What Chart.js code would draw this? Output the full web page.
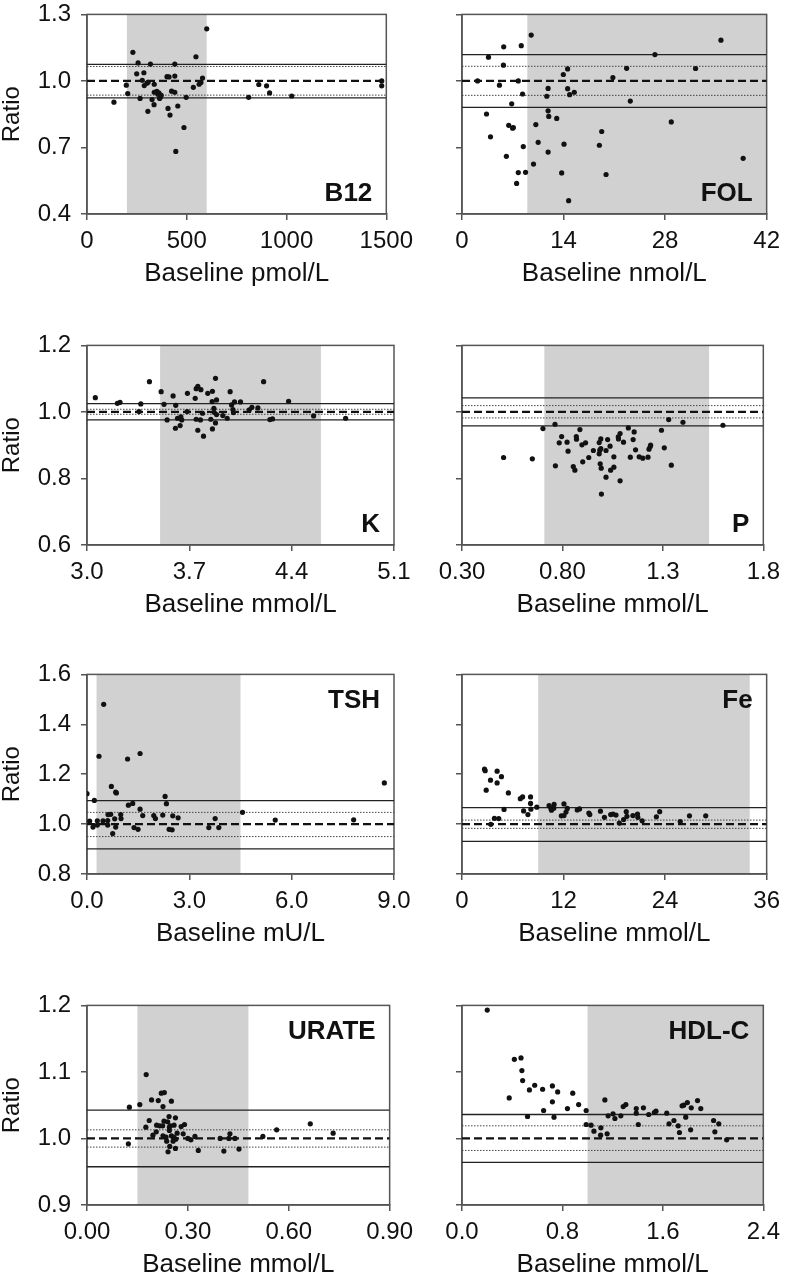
<!DOCTYPE html>
<html>
<head>
<meta charset="utf-8">
<script src="https://cdn.jsdelivr.net/npm/chart.js@4.4.0/dist/chart.umd.min.js"></script>
<style>
  body { margin: 0; background: #fff; width: 787px; height: 1275px; position: relative; overflow: hidden; }
  canvas.panel { position: absolute; }
</style>
</head>
<body>
<script>
// ---- data ----
const panelNames = ['B12', 'FOL', 'K', 'P', 'TSH', 'Fe', 'URATE', 'HDL-C'];
const xTitles = ['Baseline pmol/L', 'Baseline nmol/L', 'Baseline mmol/L', 'Baseline mmol/L',
                 'Baseline mU/L', 'Baseline mmol/L', 'Baseline mmol/L', 'Baseline mmol/L'];

const b12XTicks = [0, 500, 1000, 1500];
const b12XLabels = ['0', '500', '1000', '1500'];
const folXTicks = [0, 14, 28, 42];
const folXLabels = ['0', '14', '28', '42'];
const kXTicks = [3.0, 3.7, 4.4, 5.1];
const kXLabels = ['3.0', '3.7', '4.4', '5.1'];
const pXTicks = [0.3, 0.8, 1.3, 1.8];
const pXLabels = ['0.30', '0.80', '1.3', '1.8'];
const tshXTicks = [0, 3, 6, 9];
const tshXLabels = ['0.0', '3.0', '6.0', '9.0'];
const feXTicks = [0, 12, 24, 36];
const feXLabels = ['0', '12', '24', '36'];
const urateXTicks = [0, 0.3, 0.6, 0.9];
const urateXLabels = ['0.00', '0.30', '0.60', '0.90'];
const hdlXTicks = [0, 0.8, 1.6, 2.4];
const hdlXLabels = ['0.0', '0.8', '1.6', '2.4'];

const ratioTicksA = [0.4, 0.7, 1.0, 1.3];
const ratioLabelsA = ['0.4', '0.7', '1.0', '1.3'];
const ratioTicksB = [0.6, 0.8, 1.0, 1.2];
const ratioLabelsB = ['0.6', '0.8', '1.0', '1.2'];
const ratioTicksC = [0.8, 1.0, 1.2, 1.4, 1.6];
const ratioLabelsC = ['0.8', '1.0', '1.2', '1.4', '1.6'];
const ratioTicksD = [0.9, 1.0, 1.1, 1.2];
const ratioLabelsD = ['0.9', '1.0', '1.1', '1.2'];

// reference intervals (shaded)
const b12Range = [200, 600];
const folRange = [9, 42];
const kRange = [3.5, 4.6];
const pRange = [0.71, 1.53];
const tshRange = [0.28, 4.5];
const feRange = [9, 34];
const urateRange = [0.15, 0.48];
const hdlRange = [1.0, 2.4];

// limit lines: solid pair and dotted pair
const b12Solid = [0.924, 1.075], b12Dotted = [0.936, 1.065];
const folSolid = [0.881, 1.119], folDotted = [0.935, 1.066];
const kSolid = [0.976, 1.025], kDotted = [0.993, 1.008];
const pSolid = [0.958, 1.042], pDotted = [0.982, 1.019];
const tshSolid = [0.901, 1.094], tshDotted = [0.950, 1.047];
const feSolid = [0.931, 1.066], feDotted = [0.983, 1.016];
const urateSolid = [0.9575, 1.0425], urateDotted = [0.987, 1.013];
const hdlSolid = [0.964, 1.036], hdlDotted = [0.982, 1.019];

const b12Points = [[600,1.235],[230,1.129],[546,1.109],[256,1.081],[318,1.076],[440,1.076],[249,1.032],[285,1.037],
  [401,1.019],[411,1.018],[440,1.022],[579,1.013],[277,1.003],[306,0.994],[300,0.990],[197,0.981],[287,0.979],
  [337,0.985],[562,0.985],[571,0.993],[533,0.971],[204,0.943],[266,0.921],[337,0.949],[350,0.953],[360,0.946],
  [365,0.938],[368,0.928],[364,0.921],[326,0.916],[424,0.954],[440,0.949],[497,0.926],[336,0.893],[305,0.863],
  [406,0.876],[455,0.887],[416,0.846],[486,0.790],[445,0.682],[135,0.904],[861,0.984],[900,0.978],[915,0.946],
  [810,0.926],[1026,0.932],[1477,1.0],[1477,0.978],[355,0.940],[372,0.935]];

const folPoints = [[9.54,1.207],[5.75,1.154],[8.17,1.159],[3.65,1.107],[5.71,1.071],[35.7,1.184],[26.6,1.119],
  [14.56,1.054],[13.97,1.029],[22.7,1.057],[32.2,1.056],[20.8,1.015],[2.15,1.0],[7.76,1.0],[5.16,0.981],
  [11.87,0.966],[14.56,0.965],[8.35,0.941],[11.69,0.931],[14.84,0.938],[15.48,0.949],[23.2,0.909],[6.85,0.897],
  [3.38,0.851],[11.87,0.865],[11.96,0.840],[13.06,0.831],[6.44,0.800],[6.98,0.787],[7.08,0.790],[10.18,0.803],
  [28.85,0.815],[19.26,0.772],[3.93,0.748],[10.5,0.723],[14.06,0.715],[18.94,0.710],[8.45,0.704],[6.12,0.660],
  [11.87,0.679],[9.86,0.625],[38.76,0.651],[7.76,0.587],[8.76,0.588],[13.74,0.585],[19.86,0.578],[7.53,0.538],
  [14.7,0.460]];

const kPoints = [[3.057,1.043],[3.208,1.026],[3.226,1.029],[3.368,1.024],[3.356,1.001],[3.427,1.091],[3.507,1.061],
  [3.527,1.023],[3.589,1.048],[3.548,0.976],[3.605,0.951],[3.607,1.020],[3.619,0.981],[3.642,0.985],[3.637,0.959],
  [3.648,0.976],[3.687,1.056],[3.685,1.001],[3.740,1.041],[3.747,1.070],[3.758,1.077],[3.779,1.067],[3.747,0.978],
  [3.758,0.945],[3.776,0.976],[3.790,0.996],[3.797,0.927],[3.826,1.056],[3.858,1.062],[3.856,1.031],[3.879,1.101],
  [3.886,1.036],[3.868,1.011],[3.870,0.999],[3.886,0.992],[3.847,0.978],[3.858,0.949],[3.879,0.967],[3.929,0.989],
  [3.959,0.981],[3.979,1.061],[3.989,1.021],[3.998,1.007],[4.002,0.998],[4.009,1.030],[4.050,1.030],[4.110,1.006],
  [4.128,1.014],[4.169,1.012],[4.208,1.091],[4.251,0.977],[4.269,0.979],[4.379,1.032],[4.550,0.988],[4.769,0.981]];

const pPoints = [[0.507,0.863],[0.650,0.859],[0.703,0.950],[0.763,0.963],[0.765,0.838],[0.796,0.926],[0.784,0.907],
  [0.823,0.909],[0.828,0.882],[0.854,0.836],[0.862,0.825],[0.869,0.926],[0.870,0.918],[0.887,0.947],[0.897,0.901],
  [0.915,0.907],[0.901,0.850],[0.931,0.863],[0.954,0.884],[0.983,0.908],[0.991,0.919],[0.986,0.885],[0.983,0.874],
  [0.991,0.890],[0.988,0.844],[0.993,0.831],[1.017,0.884],[1.017,0.804],[1.025,0.917],[1.037,0.897],[0.994,0.753],
  [1.040,0.825],[1.056,0.834],[1.056,0.865],[1.078,0.925],[1.079,0.919],[1.087,0.935],[1.104,0.909],[1.087,0.793],
  [1.128,0.952],[1.138,0.864],[1.152,0.917],[1.157,0.940],[1.164,0.886],[1.182,0.865],[1.200,0.861],[1.226,0.864],
  [1.231,0.888],[1.237,0.896],[1.239,0.900],[1.293,0.945],[1.307,0.892],[1.329,0.977],[1.342,0.840],[1.400,0.969],
  [1.599,0.960]];

const tshPoints = [[0.489,1.480],[0.352,1.272],[1.19,1.261],[1.556,1.283],[0.0,1.122],[0.215,1.095],[0.714,1.151],
  [0.841,1.128],[0.861,1.125],[8.717,1.165],[2.289,1.111],[2.328,1.082],[1.213,1.076],[1.340,1.083],[1.556,1.060],
  [1.634,1.034],[1.957,1.034],[2.006,1.022],[2.221,1.036],[2.514,1.033],[2.671,1.025],[4.559,1.047],[5.518,1.016],
  [7.817,1.017],[3.757,1.022],[3.571,0.986],[3.864,0.986],[0.078,1.012],[0.176,0.988],[0.303,1.013],[0.303,0.996],
  [0.47,1.013],[0.607,1.014],[0.607,0.996],[0.695,1.039],[0.812,1.021],[0.988,1.038],[0.998,1.022],[0.753,0.962],
  [0.841,0.988],[1.379,0.986],[1.497,0.979],[2.407,0.979],[2.495,0.977],[0.616,1.038]];

const fePoints = [[2.66,1.220],[2.74,1.214],[3.37,1.176],[4.15,1.212],[4.15,1.165],[4.66,1.190],[2.86,1.136],
  [5.48,1.125],[4.97,1.059],[3.83,1.023],[4.34,1.022],[3.40,0.999],[6.89,1.102],[7.16,1.109],[7.28,1.053],
  [7.79,1.038],[8.10,1.109],[8.10,1.083],[8.14,1.060],[8.84,1.068],[10.29,1.074],[10.49,1.065],[10.57,1.056],
  [10.88,1.079],[10.84,1.064],[11.74,1.033],[12.05,1.034],[12.05,1.081],[12.29,1.048],[12.44,1.063],[13.62,1.057],
  [13.89,1.061],[14.99,1.044],[15.10,1.038],[16.36,1.052],[16.83,1.027],[17.57,1.038],[17.84,1.040],[18.20,1.036],
  [18.59,1.004],[19.10,1.018],[19.41,1.050],[19.49,1.031],[20.19,1.034],[20.74,1.040],[20.78,1.027],[21.29,1.013],
  [22.97,1.029],[23.36,1.050],[25.79,1.010],[26.88,1.033],[28.80,1.033]];

const uratePoints = [[0.126,1.047],[0.123,0.992],[0.157,1.051],[0.176,1.096],[0.192,1.058],[0.212,1.057],
  [0.221,1.068],[0.230,1.069],[0.226,1.048],[0.251,1.056],[0.175,1.017],[0.185,1.027],[0.196,1.005],[0.206,1.010],
  [0.207,1.020],[0.216,1.019],[0.225,1.019],[0.229,1.026],[0.226,1.004],[0.235,1.002],[0.240,1.025],[0.244,1.033],
  [0.245,1.017],[0.245,1.012],[0.248,1.019],[0.259,1.020],[0.263,1.031],[0.251,1.004],[0.258,1.002],[0.268,1.008],
  [0.237,0.996],[0.256,0.996],[0.264,0.999],[0.241,0.980],[0.246,0.988],[0.263,0.985],[0.280,1.018],[0.290,1.021],
  [0.286,1.007],[0.300,1.0],[0.309,0.998],[0.321,1.003],[0.331,0.982],[0.396,1.0],[0.407,0.981],[0.425,1.007],
  [0.422,1.0],[0.440,1.0],[0.452,0.984],[0.523,1.003],[0.564,1.013],[0.664,1.022],[0.732,1.008]];

const hdlPoints = [[0.201,1.193],[0.376,1.061],[0.417,1.119],[0.470,1.121],[0.477,1.102],[0.483,1.087],[0.522,1.033],
  [0.537,1.073],[0.579,1.080],[0.642,1.074],[0.650,1.042],[0.720,1.079],[0.720,1.055],[0.733,1.032],[0.762,1.070],
  [0.840,1.045],[0.882,1.068],[0.929,1.051],[0.989,1.042],[0.989,1.021],[1.028,1.020],[1.051,1.011],[1.106,1.016],
  [1.104,1.005],[1.156,1.007],[1.138,1.058],[1.164,1.034],[1.203,1.037],[1.218,1.030],[1.265,1.034],[1.284,1.048],
  [1.305,1.051],[1.388,1.045],[1.388,1.038],[1.404,1.021],[1.445,1.046],[1.487,1.036],[1.532,1.039],[1.545,1.041],
  [1.631,1.038],[1.649,1.022],[1.688,1.027],[1.722,1.019],[1.732,1.009],[1.753,1.049],[1.766,1.050],[1.782,1.032],
  [1.795,1.054],[1.821,1.013],[1.826,1.046],[1.876,1.057],[1.902,1.045],[2.004,1.027],[2.014,1.010],[2.045,1.022],
  [2.108,0.998]];

// ---- panel table built from the arrays above ----
const panels = [
  { pts: b12Points, range: b12Range, solid: b12Solid, dotted: b12Dotted, xt: b12XTicks, xl: b12XLabels, yt: ratioTicksA, yl: ratioLabelsA, tagTop: false },
  { pts: folPoints, range: folRange, solid: folSolid, dotted: folDotted, xt: folXTicks, xl: folXLabels, yt: ratioTicksA, yl: ratioLabelsA, tagTop: false },
  { pts: kPoints, range: kRange, solid: kSolid, dotted: kDotted, xt: kXTicks, xl: kXLabels, yt: ratioTicksB, yl: ratioLabelsB, tagTop: false },
  { pts: pPoints, range: pRange, solid: pSolid, dotted: pDotted, xt: pXTicks, xl: pXLabels, yt: ratioTicksB, yl: ratioLabelsB, tagTop: false },
  { pts: tshPoints, range: tshRange, solid: tshSolid, dotted: tshDotted, xt: tshXTicks, xl: tshXLabels, yt: ratioTicksC, yl: ratioLabelsC, tagTop: true },
  { pts: fePoints, range: feRange, solid: feSolid, dotted: feDotted, xt: feXTicks, xl: feXLabels, yt: ratioTicksC, yl: ratioLabelsC, tagTop: true },
  { pts: uratePoints, range: urateRange, solid: urateSolid, dotted: urateDotted, xt: urateXTicks, xl: urateXLabels, yt: ratioTicksD, yl: ratioLabelsD, tagTop: true },
  { pts: hdlPoints, range: hdlRange, solid: hdlSolid, dotted: hdlDotted, xt: hdlXTicks, xl: hdlXLabels, yt: ratioTicksD, yl: ratioLabelsD, tagTop: true }
];

const FONT = '"Liberation Sans", Arial, Helvetica, sans-serif';
const rowTops = [-10, 321, 650, 981];
const AXIS = '#555';

// grey reference band, drawn under the axes
const bandPlugin = {
  id: 'band',
  beforeDraw(chart, args, opts) {
    const { ctx, chartArea: a, scales: { x } } = chart;
    const x0 = Math.max(a.left, x.getPixelForValue(opts.lo));
    const x1 = Math.min(a.right, x.getPixelForValue(opts.hi));
    ctx.save();
    ctx.fillStyle = '#d1d1d1';
    ctx.fillRect(x0, a.top, x1 - x0, a.bottom - a.top);
    ctx.restore();
  }
};

// box round the plot + panel tag
const framePlugin = {
  id: 'frame',
  beforeDatasetsDraw(chart) {
    const { ctx, chartArea: a } = chart;
    ctx.save();
    ctx.strokeStyle = AXIS;
    ctx.lineWidth = 1.5;
    ctx.strokeRect(a.left, a.top, a.right - a.left, a.bottom - a.top);
    ctx.restore();
  },
  afterDraw(chart, args, opts) {
    const { ctx, chartArea: a } = chart;
    ctx.save();
    ctx.font = 'bold 26px ' + FONT;
    ctx.fillStyle = '#111';
    ctx.textAlign = 'right';
    ctx.textBaseline = 'alphabetic';
    const y = opts.top ? a.top + 34 : a.bottom - 13;
    ctx.fillText(opts.text, a.right - 14, y);
    ctx.restore();
  }
};

function hline(y, x0, x1, color, width, dash) {
  return {
    data: [{ x: x0, y: y }, { x: x1, y: y }],
    showLine: true,
    pointRadius: 0,
    borderColor: color,
    borderWidth: width,
    borderDash: dash
  };
}

function makePanel(p, idx) {
  const left = idx % 2 === 0;
  const w = left ? 420 : 367;
  const h = 299;
  const canvas = document.createElement('canvas');
  canvas.className = 'panel';
  canvas.width = w;
  canvas.height = h;
  canvas.style.width = w + 'px';
  canvas.style.height = h + 'px';
  canvas.style.left = (left ? 0 : 420) + 'px';
  canvas.style.top = rowTops[Math.floor(idx / 2)] + 'px';
  document.body.appendChild(canvas);

  const xmin = p.xt[0], xmax = p.xt[p.xt.length - 1];
  const ymin = p.yt[0], ymax = p.yt[p.yt.length - 1];

  new Chart(canvas.getContext('2d'), {
    type: 'scatter',
    data: {
      datasets: [
        {
          data: p.pts.map(v => ({ x: v[0], y: v[1] })),
          pointRadius: 2.6,
          pointBackgroundColor: '#111',
          pointBorderWidth: 0,
          showLine: false
        },
        hline(1.0, xmin, xmax, '#111', 2.3, [8, 4]),
        hline(p.dotted[0], xmin, xmax, '#444', 1, [1.5, 1.5]),
        hline(p.dotted[1], xmin, xmax, '#444', 1, [1.5, 1.5]),
        hline(p.solid[0], xmin, xmax, '#222', 1.3, []),
        hline(p.solid[1], xmin, xmax, '#222', 1.3, [])
      ]
    },
    options: {
      responsive: false,
      animation: false,
      devicePixelRatio: 1,
      events: [],
      layout: { padding: { top: 20, right: left ? 26 : 18, bottom: 0, left: 0 } },
      plugins: {
        legend: { display: false },
        tooltip: { enabled: false },
        band: { lo: p.range[0], hi: p.range[1] },
        frame: { text: panelNames[idx], top: p.tagTop }
      },
      scales: {
        x: {
          type: 'linear',
          min: xmin,
          max: xmax,
          afterBuildTicks(s) { s.ticks = p.xt.map(v => ({ value: v })); },
          afterFit(s) { s.height = 75; },
          ticks: {
            callback(val, i) { return p.xl[i]; },
            color: '#111',
            font: { family: FONT, size: 24 },
            padding: 7,
            maxRotation: 0,
            autoSkip: false
          },
          grid: { drawOnChartArea: false, drawTicks: true, tickLength: 6, color: AXIS, lineWidth: 1.5 },
          border: { display: true, color: AXIS, width: 1.5 },
          title: {
            display: true,
            text: xTitles[idx],
            color: '#111',
            font: { family: FONT, size: 26, lineHeight: 1 },
            padding: { top: 0, bottom: 2 }
          }
        },
        y: {
          type: 'linear',
          min: ymin,
          max: ymax,
          afterBuildTicks(s) { s.ticks = p.yt.map(v => ({ value: v })); },
          afterFit(s) { s.width = left ? 87 : 42; },
          ticks: {
            callback(val, i) { return left ? p.yl[i] : ''; },
            color: '#111',
            font: { family: FONT, size: 24 },
            padding: 10,
            autoSkip: false
          },
          grid: { drawOnChartArea: false, drawTicks: true, tickLength: 6, color: AXIS, lineWidth: 1.5 },
          border: { display: true, color: AXIS, width: 1.5 },
          title: {
            display: left,
            text: 'Ratio',
            color: '#111',
            font: { family: FONT, size: 24, lineHeight: 1 },
            padding: 0
          }
        }
      }
    },
    plugins: [bandPlugin, framePlugin]
  });
}

panels.forEach(makePanel);
</script>
</body>
</html>
